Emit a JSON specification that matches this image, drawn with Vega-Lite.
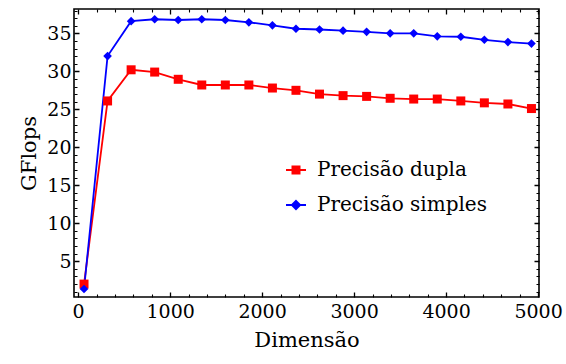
{
  "$schema": "https://vega.github.io/schema/vega-lite/v6.json",
  "width": 465,
  "height": 288,
  "autosize": "none",
  "padding": {"left": 74, "top": 9, "right": 27, "bottom": 67},
  "background": "white",
  "data": {
    "values": [
      {"n": 64, "g": 2.0, "s": "Precisão dupla"},
      {"n": 320, "g": 26.1, "s": "Precisão dupla"},
      {"n": 576, "g": 30.2, "s": "Precisão dupla"},
      {"n": 832, "g": 29.9, "s": "Precisão dupla"},
      {"n": 1088, "g": 28.95, "s": "Precisão dupla"},
      {"n": 1344, "g": 28.2, "s": "Precisão dupla"},
      {"n": 1600, "g": 28.2, "s": "Precisão dupla"},
      {"n": 1856, "g": 28.2, "s": "Precisão dupla"},
      {"n": 2112, "g": 27.8, "s": "Precisão dupla"},
      {"n": 2368, "g": 27.5, "s": "Precisão dupla"},
      {"n": 2624, "g": 27.0, "s": "Precisão dupla"},
      {"n": 2880, "g": 26.8, "s": "Precisão dupla"},
      {"n": 3136, "g": 26.7, "s": "Precisão dupla"},
      {"n": 3392, "g": 26.45, "s": "Precisão dupla"},
      {"n": 3648, "g": 26.35, "s": "Precisão dupla"},
      {"n": 3904, "g": 26.35, "s": "Precisão dupla"},
      {"n": 4160, "g": 26.1, "s": "Precisão dupla"},
      {"n": 4416, "g": 25.85, "s": "Precisão dupla"},
      {"n": 4672, "g": 25.7, "s": "Precisão dupla"},
      {"n": 4928, "g": 25.1, "s": "Precisão dupla"},
      {"n": 64, "g": 1.35, "s": "Precisão simples"},
      {"n": 320, "g": 32.0, "s": "Precisão simples"},
      {"n": 576, "g": 36.6, "s": "Precisão simples"},
      {"n": 832, "g": 36.85, "s": "Precisão simples"},
      {"n": 1088, "g": 36.75, "s": "Precisão simples"},
      {"n": 1344, "g": 36.85, "s": "Precisão simples"},
      {"n": 1600, "g": 36.75, "s": "Precisão simples"},
      {"n": 1856, "g": 36.45, "s": "Precisão simples"},
      {"n": 2112, "g": 36.05, "s": "Precisão simples"},
      {"n": 2368, "g": 35.6, "s": "Precisão simples"},
      {"n": 2624, "g": 35.5, "s": "Precisão simples"},
      {"n": 2880, "g": 35.35, "s": "Precisão simples"},
      {"n": 3136, "g": 35.2, "s": "Precisão simples"},
      {"n": 3392, "g": 35.0, "s": "Precisão simples"},
      {"n": 3648, "g": 35.0, "s": "Precisão simples"},
      {"n": 3904, "g": 34.6, "s": "Precisão simples"},
      {"n": 4160, "g": 34.55, "s": "Precisão simples"},
      {"n": 4416, "g": 34.15, "s": "Precisão simples"},
      {"n": 4672, "g": 33.85, "s": "Precisão simples"},
      {"n": 4928, "g": 33.65, "s": "Precisão simples"}
    ]
  },
  "layer": [
    {
      "mark": {"type": "point", "opacity": 0},
      "encoding": {
        "x": {"field": "n", "type": "quantitative",
          "axis": {"orient": "bottom", "title": null, "labels": false, "domain": false, "ticks": false, "grid": true, "gridColor": "black", "gridOpacity": 1, "gridWidth": 1.1, "gridDash": [3, 282], "values": [200,400,600,800,1200,1400,1600,1800,2200,2400,2600,2800,3200,3400,3600,3800,4200,4400,4600,4800]}},
        "y": {"field": "g", "type": "quantitative",
          "axis": {"orient": "left", "title": null, "labels": false, "domain": false, "ticks": false, "grid": true, "gridColor": "black", "gridOpacity": 1, "gridWidth": 1.1, "gridDash": [3, 459], "values": [1,2,3,4,6,7,8,9,11,12,13,14,16,17,18,19,21,22,23,24,26,27,28,29,31,32,33,34,36,37,38]}}
      }
    },
    {
      "mark": {"type": "line", "strokeWidth": 1.8},
      "encoding": {
        "x": {"field": "n", "type": "quantitative", "scale": {"domain": [-45, 5010], "nice": false, "zero": false},
          "axis": {"orient": "bottom", "title": "Dimensão", "format": "d", "values": [0, 1000, 2000, 3000, 4000, 5000], "ticks": false, "domain": false, "grid": true, "gridColor": "black", "gridOpacity": 1, "gridWidth": 1.3, "gridDash": [5, 278], "labelPadding": 5, "titlePadding": 8, "labelFlush": false}},
        "y": {"field": "g", "type": "quantitative", "scale": {"domain": [0.3, 38.2], "nice": false, "zero": false},
          "axis": {"orient": "left", "title": "GFlops", "format": "d", "values": [5, 10, 15, 20, 25, 30, 35], "ticks": false, "domain": false, "grid": true, "gridColor": "black", "gridOpacity": 1, "gridWidth": 1.3, "gridDash": [5, 455], "labelPadding": 3, "titlePadding": 7, "labelFlush": false}},
        "color": {"field": "s", "type": "nominal", "scale": {"domain": ["Precisão dupla", "Precisão simples"], "range": ["#ff0000", "#0000ff"]},
          "legend": {"title": null, "encode": {"symbols": {"update": {
            "shape": {"signal": "datum.value === 'Precisão dupla' ? 'M-1,0H1M-0.36,-0.36H0.36V0.36H-0.36Z' : 'M-1,0H1M0,-0.42L0.42,0L0,0.42L-0.42,0Z'"},
            "fill": {"signal": "datum.value === 'Precisão dupla' ? '#ff0000' : '#0000ff'"},
            "strokeWidth": {"value": 1.8},
            "opacity": {"value": 1}
          }}}}},
        "order": {"field": "n"}
      }
    },
    {
      "transform": [{"filter": "datum.s === 'Precisão dupla'"}],
      "mark": {"type": "point", "filled": true, "opacity": 1, "shape": "square", "size": 81, "color": "#ff0000"},
      "encoding": {
        "x": {"field": "n", "type": "quantitative", "axis": null},
        "y": {"field": "g", "type": "quantitative", "axis": null}
      }
    },
    {
      "transform": [{"filter": "datum.s === 'Precisão simples'"}],
      "mark": {"type": "point", "filled": true, "opacity": 1, "shape": "diamond", "size": 75, "color": "#0000ff"},
      "encoding": {
        "x": {"field": "n", "type": "quantitative", "axis": null},
        "y": {"field": "g", "type": "quantitative", "axis": null}
      }
    }
  ],
  "resolve": {"axis": {"x": "independent", "y": "independent"}},
  "config": {
    "view": {"stroke": "black", "strokeWidth": 1.6},
    "font": "DejaVu Serif",
    "axis": {
      "labelFont": "DejaVu Serif",
      "labelFontSize": 19,
      "labelColor": "black",
      "titleFont": "DejaVu Serif",
      "titleFontSize": 21,
      "titleFontWeight": "normal",
      "titleColor": "black"
    },
    "legend": {
      "orient": "none",
      "legendX": 211,
      "legendY": 150,
      "padding": 0,
      "labelFont": "DejaVu Serif",
      "labelFontSize": 20,
      "labelColor": "black",
      "labelOffset": 10,
      "rowPadding": 14,
      "symbolSize": 400,
      "symbolStrokeWidth": 1.8,
      "symbolOpacity": 1,
      "labelLimit": 300
    }
  }
}
